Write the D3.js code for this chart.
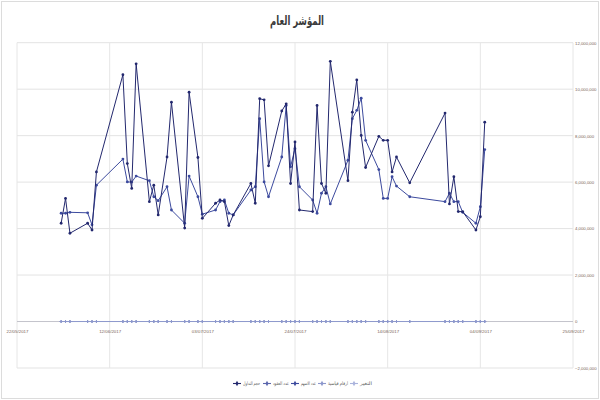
<!DOCTYPE html>
<html><head><meta charset="utf-8">
<script src="https://cdn.jsdelivr.net/npm/d3@7"></script>
<style>html,body{margin:0;padding:0;background:#fff}svg{display:block}</style>
</head><body><svg id="c" width="600" height="400"></svg>
<script>
const chartTitle = "المؤشر العام";
const dates = ["2017-06-01","2017-06-02","2017-06-03","2017-06-07","2017-06-08","2017-06-09","2017-06-15","2017-06-16","2017-06-17","2017-06-18","2017-06-21","2017-06-22","2017-06-23","2017-06-25","2017-06-26","2017-06-29","2017-06-30","2017-07-02","2017-07-03","2017-07-06","2017-07-07","2017-07-08","2017-07-09","2017-07-10","2017-07-14","2017-07-15","2017-07-16","2017-07-17","2017-07-18","2017-07-21","2017-07-22","2017-07-23","2017-07-24","2017-07-25","2017-07-28","2017-07-29","2017-07-30","2017-07-31","2017-08-01","2017-08-05","2017-08-06","2017-08-07","2017-08-08","2017-08-09","2017-08-12","2017-08-13","2017-08-14","2017-08-15","2017-08-16","2017-08-19","2017-08-27","2017-08-28","2017-08-29","2017-08-30","2017-08-31","2017-09-03","2017-09-04","2017-09-05"];
const tradingVolume = [4230000,5300000,3800000,4230000,3940000,6440000,10620000,6800000,5730000,11090000,5160000,5870000,4590000,7080000,9440000,4020000,9870000,7060000,4440000,5090000,5230000,5160000,4130000,4590000,5940000,5090000,9590000,9540000,6700000,9060000,9370000,5940000,7730000,4800000,4730000,9300000,5940000,5520000,11200000,6060000,9010000,10400000,8010000,6630000,7970000,7800000,7800000,6440000,7080000,5970000,8970000,5060000,6230000,4730000,4730000,3940000,4510000,8580000];
const contractsCount = [612,540,498,705,660,587,830,702,655,910,620,574,533,688,795,510,842,701,530,566,602,590,512,548,640,577,889,864,690,811,903,645,754,560,522,858,617,603,947,660,845,912,790,672,734,745,710,655,688,604,815,566,651,527,518,470,505,776];
const sharesCount = [4660000,4660000,4700000,4680000,4160000,5870000,6990000,6010000,6000000,6260000,6060000,5370000,5200000,5800000,4800000,4230000,6260000,5370000,4620000,4800000,5160000,5230000,4660000,4590000,5660000,5800000,8730000,6010000,5370000,7080000,9300000,6660000,7440000,5800000,5230000,4660000,5520000,5800000,5060000,6940000,8730000,9090000,9610000,7800000,6540000,5300000,5300000,6230000,5830000,5370000,5160000,5520000,5160000,5160000,4700000,4230000,4940000,7400000];
const indexValues = [587,589,586,588,590,592,597,596,598,601,600,599,597,598,602,600,603,604,602,601,603,604,602,601,603,605,609,611,610,612,615,613,614,611,610,613,612,611,616,614,617,620,619,617,618,618,617,615,616,614,617,615,616,613,612,610,611,614];
const changeValues = [-0.3,0.4,-0.5,0.3,0.2,0.4,0.8,-0.2,0.3,0.6,-0.1,-0.2,-0.3,0.2,0.6,-0.3,0.5,0.2,-0.3,-0.2,0.3,0.2,-0.3,-0.1,0.3,0.4,0.7,0.3,-0.2,0.4,0.5,-0.3,0.2,-0.5,-0.2,0.5,-0.2,-0.2,0.8,-0.3,0.5,0.5,-0.2,-0.3,0.2,0.1,-0.2,-0.3,0.2,-0.3,0.5,-0.3,0.2,-0.4,-0.2,-0.3,0.2,0.5];
const xTickLabels = ["22/05/2017","12/06/2017","03/07/2017","24/07/2017","14/08/2017","04/09/2017","25/09/2017"];
const yTickValues = [-2000000,0,2000000,4000000,6000000,8000000,10000000,12000000];
const seriesNames = ["حجم التداول","عدد العقود","عدد الاسهم","ارقام قياسية","التغير"];

const parse = d3.utcParse("%Y-%m-%d");
const parseTick = d3.utcParse("%d/%m/%Y");
const svg = d3.select("#c");
const W = 600, H = 400;
const L = 17, R = 573, T = 42.7, B = 368;
const smallFont = "'Liberation Sans',Arial,sans-serif";

svg.append("rect").attr("x",1.5).attr("y",1.5).attr("width",W-3).attr("height",H-3)
  .attr("fill","#fff").attr("stroke","#dcdcdc").attr("stroke-width",1);

const x = d3.scaleUtc().domain([parseTick(xTickLabels[0]), parseTick(xTickLabels[xTickLabels.length-1])]).range([L,R]);
const y = d3.scaleLinear().domain([-2000000,12000000]).range([B,T]);

// grid
const g = svg.append("g");
g.selectAll("line.h").data(yTickValues).join("line")
  .attr("x1",L).attr("x2",R).attr("y1",d=>y(d)).attr("y2",d=>y(d))
  .attr("stroke","#e3e3e3").attr("stroke-width",1);
g.selectAll("line.v").data(xTickLabels.map(s=>parseTick(s))).join("line")
  .attr("x1",d=>x(d)).attr("x2",d=>x(d)).attr("y1",T).attr("y2",B)
  .attr("stroke","#e6e6e6").attr("stroke-width",1);
// zero axis
svg.append("line").attr("x1",L).attr("x2",R).attr("y1",y(0)).attr("y2",y(0))
  .attr("stroke","#c4c4cc").attr("stroke-width",1);

// right value axis labels
const fmt = d3.format(",");
const yAxis = d3.axisRight(y).tickValues(yTickValues).tickSize(0).tickPadding(2).tickFormat(fmt);
const ya = svg.append("g").attr("transform",`translate(${R},0)`).call(yAxis);
ya.select(".domain").remove();
ya.selectAll("text").attr("font-family",smallFont)
  .attr("font-size",4.3).attr("fill","#7a6657");

// x date labels
const xFmt = d3.utcFormat("%d/%m/%Y");
const xAxis = d3.axisBottom(x).tickValues(xTickLabels.map(s=>parseTick(s))).tickSize(0).tickPadding(8).tickFormat(xFmt);
const xa = svg.append("g").attr("transform",`translate(0,${y(0)})`).call(xAxis);
xa.select(".domain").remove();
xa.selectAll("text").attr("font-family",smallFont)
  .attr("font-size",4.4).attr("fill","#7a6657");

const pts = dates.map(parse);
const colors = ["#23286e","#5a66ad","#3c4a9e","#8c97cc","#aab3dc"];
const allSeries = [tradingVolume, contractsCount, sharesCount, indexValues, changeValues];
const line = d3.line().x(d=>x(d[0])).y(d=>y(d[1]));

// near zero series first
[1,4,3].forEach(i=>{
  const data = pts.map((p,j)=>[p, allSeries[i][j]]);
  svg.append("path").datum(data).attr("d",line).attr("fill","none")
    .attr("stroke",colors[i]).attr("stroke-width",0.9);
  svg.selectAll(null).data(data).join("path")
    .attr("transform",d=>`translate(${x(d[0])},${y(d[1])})`)
    .attr("d",d3.symbol(d3.symbolCross,4.5))
    .attr("fill",colors[i]);
});
// main series
[2,0].forEach(i=>{
  const data = pts.map((p,j)=>[p, allSeries[i][j]]);
  svg.append("path").datum(data).attr("d",line).attr("fill","none")
    .attr("stroke",colors[i]).attr("stroke-width",1);
  svg.selectAll(null).data(data).join("circle")
    .attr("cx",d=>x(d[0])).attr("cy",d=>y(d[1])).attr("r",1.4)
    .attr("fill",colors[i]);
});

// title
svg.append("text").attr("x",297).attr("y",25).attr("text-anchor","middle")
  .attr("font-family","'DejaVu Sans',sans-serif").attr("font-size",12.5).attr("font-weight","bold")
  .attr("fill","#3a3a3a").attr("direction","rtl")
  .attr("textLength",54).attr("lengthAdjust","spacingAndGlyphs").text(chartTitle);

// legend
const legX = [233, 263, 291, 318, 350];
const legW = [17, 16, 15, 20, 12];
const leg = svg.append("g");
seriesNames.forEach((n,i)=>{
  const gx = legX[i], gy = 383.5;
  leg.append("line").attr("x1",gx).attr("x2",gx+8).attr("y1",gy).attr("y2",gy)
    .attr("stroke",colors[i]).attr("stroke-width",1.1);
  leg.append("path").attr("transform",`translate(${gx+4},${gy})`)
    .attr("d",d3.symbol(d3.symbolDiamond,8)).attr("fill",colors[i]);
  leg.append("text").attr("x",gx+10).attr("y",gy+1.7)
    .attr("font-family","'DejaVu Sans',sans-serif").attr("font-size",4.8)
    .attr("fill","#5a5a5a").attr("text-anchor","start")
    .attr("textLength",legW[i]).attr("lengthAdjust","spacingAndGlyphs").text(n);
});
</script></body></html>
